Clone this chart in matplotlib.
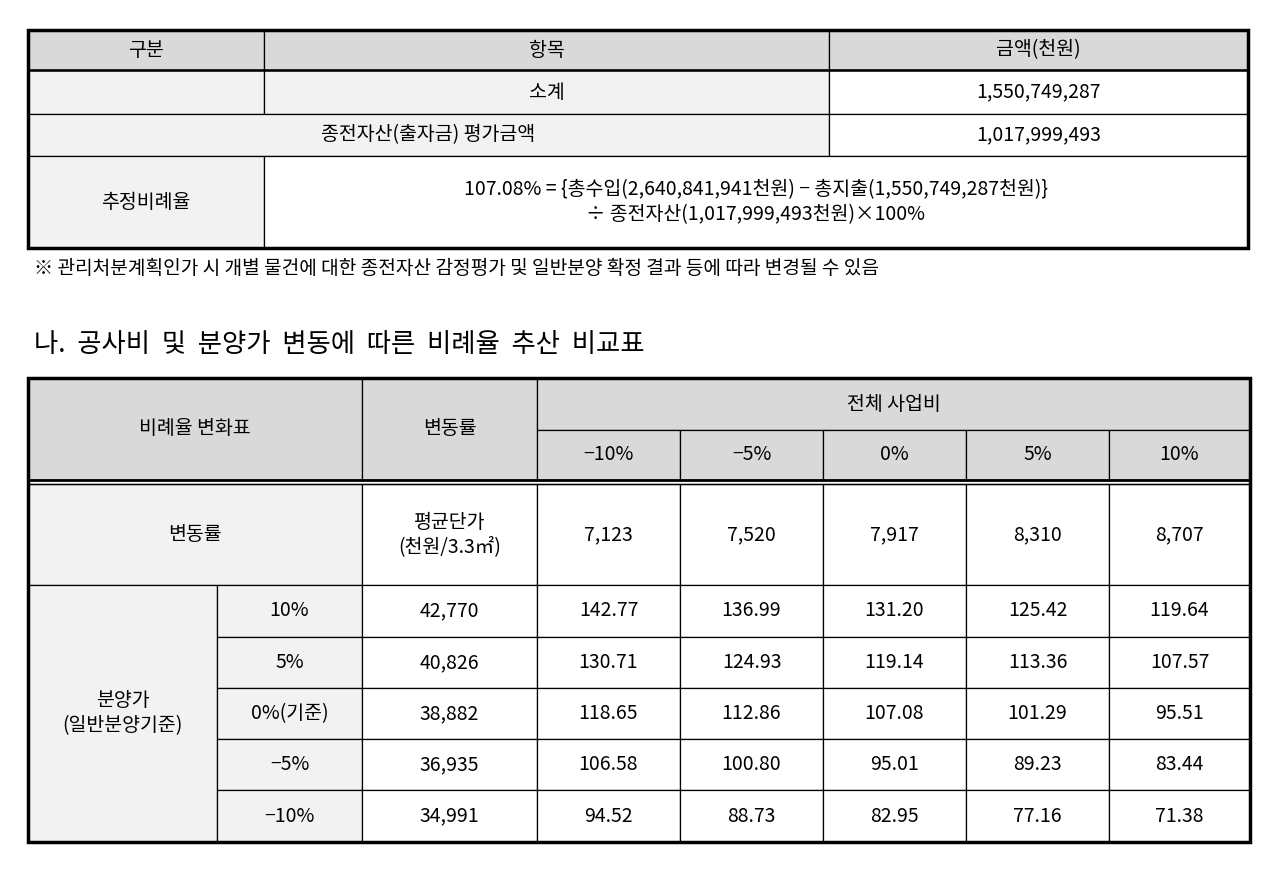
import matplotlib
matplotlib.use("Agg")
import matplotlib.pyplot as plt
from matplotlib.patches import Rectangle

plt.rcParams['font.family'] = ['Noto Sans CJK KR', 'DejaVu Sans']

top_headers = ["구분", "항목", "금액(천원)"]
subtotal_label = "소계"
subtotal_value = "1,550,749,287"
prior_label = "종전자산(출자금) 평가금액"
prior_value = "1,017,999,493"
ratio_label = "추정비례율"
ratio_formula = ["107.08% = {총수입(2,640,841,941천원) − 총지출(1,550,749,287천원)}",
                 "÷ 종전자산(1,017,999,493천원)×100%"]
note = "※ 관리처분계획인가 시 개별 물건에 대한 종전자산 감정평가 및 일반분양 확정 결과 등에 따라 변경될 수 있음"
title = "나.  공사비  및  분양가  변동에  따른  비례율  추산  비교표"

cost_changes = ["−10%", "−5%", "0%", "5%", "10%"]
avg_unit_price = ["7,123", "7,520", "7,917", "8,310", "8,707"]
price_changes = ["10%", "5%", "0%(기준)", "−5%", "−10%"]
sale_prices = ["42,770", "40,826", "38,882", "36,935", "34,991"]
ratios = [
    [142.77, 136.99, 131.20, 125.42, 119.64],
    [130.71, 124.93, 119.14, 113.36, 107.57],
    [118.65, 112.86, 107.08, 101.29, 95.51],
    [106.58, 100.80, 95.01, 89.23, 83.44],
    [94.52, 88.73, 82.95, 77.16, 71.38],
]

W, H = 1278, 874
fig = plt.figure(figsize=(W/100, H/100), dpi=100)
ax = fig.add_axes([0, 0, 1, 1])
ax.set_xlim(0, W); ax.set_ylim(H, 0); ax.axis('off')

HDR = '#d9d9d9'; LT = '#f2f2f2'
FS = 14

def cell(x0, y0, x1, y1, fc='white', text=None, lw=0.9):
    ax.add_patch(Rectangle((x0, y0), x1-x0, y1-y0, facecolor=fc, edgecolor='black', lw=lw))
    if text is not None:
        ax.text((x0+x1)/2, (y0+y1)/2, text, ha='center', va='center', fontsize=FS, linespacing=1.25)

# top table
c = [28, 264, 829, 1248]
r = [30, 70, 114, 156, 248]
for i, t in enumerate(top_headers):
    cell(c[i], r[0], c[i+1], r[1], HDR, t)
cell(c[0], r[1], c[1], r[2], LT)
cell(c[1], r[1], c[2], r[2], LT, subtotal_label)
cell(c[2], r[1], c[3], r[2], 'white', subtotal_value)
cell(c[0], r[2], c[2], r[3], LT, prior_label)
cell(c[2], r[2], c[3], r[3], 'white', prior_value)
cell(c[0], r[3], c[1], r[4], LT, ratio_label)
cell(c[1], r[3], c[3], r[4], 'white', "\n".join(ratio_formula))
ax.add_patch(Rectangle((c[0], r[0]), c[3]-c[0], r[4]-r[0], fill=False, edgecolor='black', lw=2.5))
ax.plot([c[0], c[3]], [r[1], r[1]], color='black', lw=1.8)

ax.text(34, 268, note, ha='left', va='center', fontsize=13.8)
ax.text(34, 344, title, ha='left', va='center', fontsize=19)

# bottom table
x0, xa, xb, xc = 28, 217, 362, 537
xs = [537, 680, 823, 966, 1109, 1250]
y0, ym, yh = 378, 430, 480
yb = 484
yr = [484, 585, 637, 688, 739, 790, 842]

cell(x0, y0, xb, yh, HDR, "비례율 변화표")
cell(xb, y0, xc, yh, HDR, "변동률")
cell(xc, y0, xs[-1], ym, HDR, "전체 사업비")
for j, t in enumerate(cost_changes):
    cell(xs[j], ym, xs[j+1], yh, HDR, t)

cell(x0, yr[0], xb, yr[1], LT, "변동률")
cell(xb, yr[0], xc, yr[1], 'white', "평균단가\n(천원/3.3㎡)")
for j, t in enumerate(avg_unit_price):
    cell(xs[j], yr[0], xs[j+1], yr[1], 'white', t)

cell(x0, yr[1], xa, yr[-1], LT, "분양가\n(일반분양기준)")
for i in range(5):
    cell(xa, yr[i+1], xb, yr[i+2], LT, price_changes[i])
    cell(xb, yr[i+1], xc, yr[i+2], 'white', sale_prices[i])
    for j in range(5):
        cell(xs[j], yr[i+1], xs[j+1], yr[i+2], 'white', f"{ratios[i][j]:.2f}")

ax.plot([x0, xs[-1]], [yh, yh], color='black', lw=2)
ax.plot([x0, xs[-1]], [yb, yb], color='black', lw=1)
ax.add_patch(Rectangle((x0, y0), xs[-1]-x0, yr[-1]-y0, fill=False, edgecolor='black', lw=2.5))

fig.savefig("out.png", dpi=100)
